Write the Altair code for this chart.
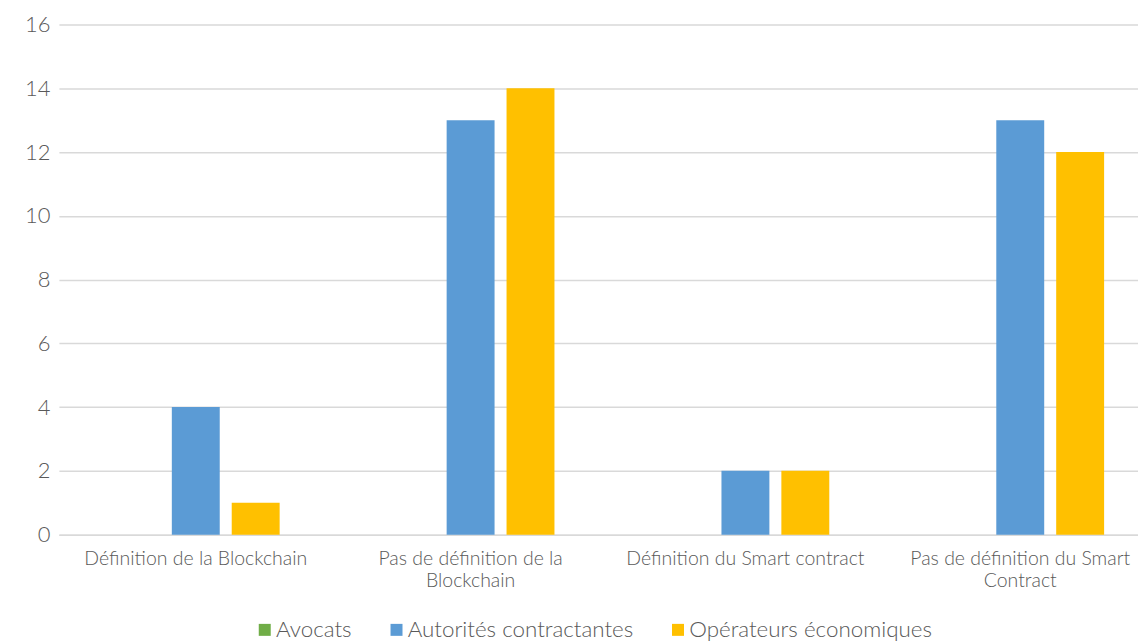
import altair as alt
import pandas as pd

categories = [
    "Définition de la Blockchain",
    "Pas de définition de la\nBlockchain",
    "Définition du Smart contract",
    "Pas de définition du Smart\nContract",
]
series = ["Avocats", "Autorités contractantes", "Opérateurs économiques"]
colors = ["#70AD47", "#5B9BD5", "#FFC000"]
avocats = [0, 0, 0, 0]
autorites = [4, 13, 2, 13]
operateurs = [1, 14, 2, 12]

rows = []
for s, vals in zip(series, [avocats, autorites, operateurs]):
    for c, v in zip(categories, vals):
        rows.append({"cat": c, "serie": s, "val": v})
df = pd.DataFrame(rows)

FONT = "Lato"
GREY = "#595959"

chart = alt.Chart(df).mark_bar().encode(
    x=alt.X("cat:N", sort=categories, title=None,
            scale=alt.Scale(paddingInner=0.3897, paddingOuter=0.1581, align=0.61),
            axis=alt.Axis(labelAngle=0, labelExpr="split(datum.label, '\\n')",
                          labelFontSize=19.5, labelColor=GREY, labelFont=FONT,
                          labelFontWeight=300, labelLineHeight=22, labelLimit=0,
                          labelPadding=15, ticks=False, domain=True,
                          domainColor="#D9D9D9", domainWidth=1.5, grid=False)),
    xOffset=alt.XOffset("serie:N", sort=series,
                        scale=alt.Scale(paddingInner=0.2, paddingOuter=0)),
    y=alt.Y("val:Q", title=None,
            scale=alt.Scale(domain=[0, 16], nice=False),
            axis=alt.Axis(values=list(range(0, 17, 2)), labelFontSize=22,
                          labelColor=GREY, labelFont=FONT, labelFontWeight=300,
                          labelPadding=9, ticks=False, domain=False,
                          gridColor="#D9D9D9", gridWidth=1.5)),
    color=alt.Color("serie:N", sort=series,
                    scale=alt.Scale(domain=series, range=colors),
                    legend=alt.Legend(title=None, orient="none", direction="horizontal",
                                      legendX=195, legendY=595,
                                      symbolType="square", symbolSize=144,
                                      symbolStrokeWidth=0, labelFontSize=22.4,
                                      labelFont=FONT, labelFontWeight=300,
                                      labelColor=GREY, labelOffset=0, labelLimit=0,
                                      columnPadding=33, padding=0)),
).properties(
    width=1081, height=511,
    padding={"left": 16, "top": 5, "right": 0, "bottom": 0},
).configure_view(stroke=None)

chart.save("out.html", embed_options={"renderer": "svg", "actions": False})
